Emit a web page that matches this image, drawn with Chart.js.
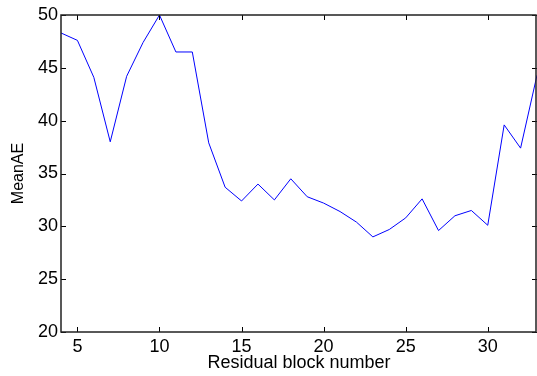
<!DOCTYPE html>
<html>
<head>
<meta charset="utf-8">
<script src="https://cdn.jsdelivr.net/npm/chart.js@4/dist/chart.umd.min.js"></script>
<style>
  html, body { margin: 0; padding: 0; background: #fff; }
  #wrap { width: 537px; height: 376px; }
</style>
</head>
<body>
<div id="wrap"><canvas id="lineChart"></canvas></div>
<script>
// residual block number vs MeanAE
var blocks = [4, 5, 6, 7, 8, 9, 10, 11, 12, 13, 14, 15, 16, 17, 18, 19, 20, 21, 22, 23, 24, 25, 26, 27, 28, 29, 30, 31, 32, 33];
var meanAE = [48.3, 47.6, 44.1, 38.0, 44.2, 47.4, 50.0, 46.5, 46.5, 37.9, 33.7, 32.4, 34.0, 32.5, 34.5, 32.8, 32.2, 31.4, 30.4, 29.0, 29.7, 30.8, 32.6, 29.6, 31.0, 31.5, 30.1, 39.6, 37.4, 44.3];
var xTicks = [5, 10, 15, 20, 25, 30];
var yTicks = [20, 25, 30, 35, 40, 45, 50];

var fontFam = '"Liberation Sans", Arial, Helvetica, sans-serif';

// matlab style box with inward ticks
var boxPlugin = {
    id: 'box',
    afterDraw: function(chart) {
        var c = chart.ctx, a = chart.chartArea;
        var xs = chart.scales.x, ys = chart.scales.y;
        var len = 5;
        c.save();
        c.strokeStyle = '#000';
        c.lineWidth = 1;
        c.beginPath();
        xTicks.forEach(function(v) {
            var px = Math.round(xs.getPixelForValue(v)) + 0.5;
            c.moveTo(px, a.bottom); c.lineTo(px, a.bottom - len);
            c.moveTo(px, a.top); c.lineTo(px, a.top + len);
        });
        yTicks.forEach(function(v) {
            var py = Math.round(ys.getPixelForValue(v)) + 0.5;
            c.moveTo(a.left, py); c.lineTo(a.left + len, py);
            c.moveTo(a.right, py); c.lineTo(a.right - len, py);
        });
        c.stroke();
        c.lineWidth = 1.5;
        c.strokeStyle = '#222';
        c.strokeRect(a.left, a.top, a.right - a.left - 1, a.bottom - a.top);
        c.restore();
    }
};

var ctxLine = document.getElementById('lineChart');
var lineChart = new Chart(ctxLine, {
    type: 'line',
    data: {
        labels: blocks,
        datasets: [{
            data: meanAE,
            borderColor: 'rgb(0, 0, 255)',
            borderWidth: 1,
            pointRadius: 0,
            tension: 0,
            fill: false
        }]
    },
    options: {
        responsive: true,
        maintainAspectRatio: false,
        animation: false,
        layout: { padding: { top: 15, right: 0, left: 0, bottom: 0 } },
        plugins: {
            legend: { display: false },
            tooltip: { enabled: false }
        },
        scales: {
            x: {
                type: 'linear',
                min: 4,
                max: 33,
                afterBuildTicks: function(scale) {
                    scale.ticks = xTicks.map(function(v) { return { value: v }; });
                },
                afterFit: function(scale) { scale.height = 44; },
                grid: { display: false, drawTicks: false },
                border: { display: false },
                ticks: {
                    color: '#000',
                    padding: 4,
                    maxRotation: 0,
                    font: { family: fontFam, size: 18 }
                },
                title: {
                    display: true,
                    text: 'Residual block number',
                    color: '#000',
                    padding: { top: 0, bottom: 2 },
                    font: { family: fontFam, size: 18 }
                }
            },
            y: {
                min: 20,
                max: 50,
                afterBuildTicks: function(scale) {
                    scale.ticks = yTicks.map(function(v) { return { value: v }; });
                },
                afterFit: function(scale) { scale.width = 61; },
                grid: { display: false, drawTicks: false },
                border: { display: false },
                ticks: {
                    color: '#000',
                    padding: 3,
                    font: { family: fontFam, size: 18 }
                },
                title: {
                    display: true,
                    text: 'MeanAE',
                    color: '#000',
                    padding: { top: 9, bottom: 0 },
                    font: { family: fontFam, size: 16 }
                }
            }
        }
    },
    plugins: [boxPlugin]
});
</script>
</body>
</html>
